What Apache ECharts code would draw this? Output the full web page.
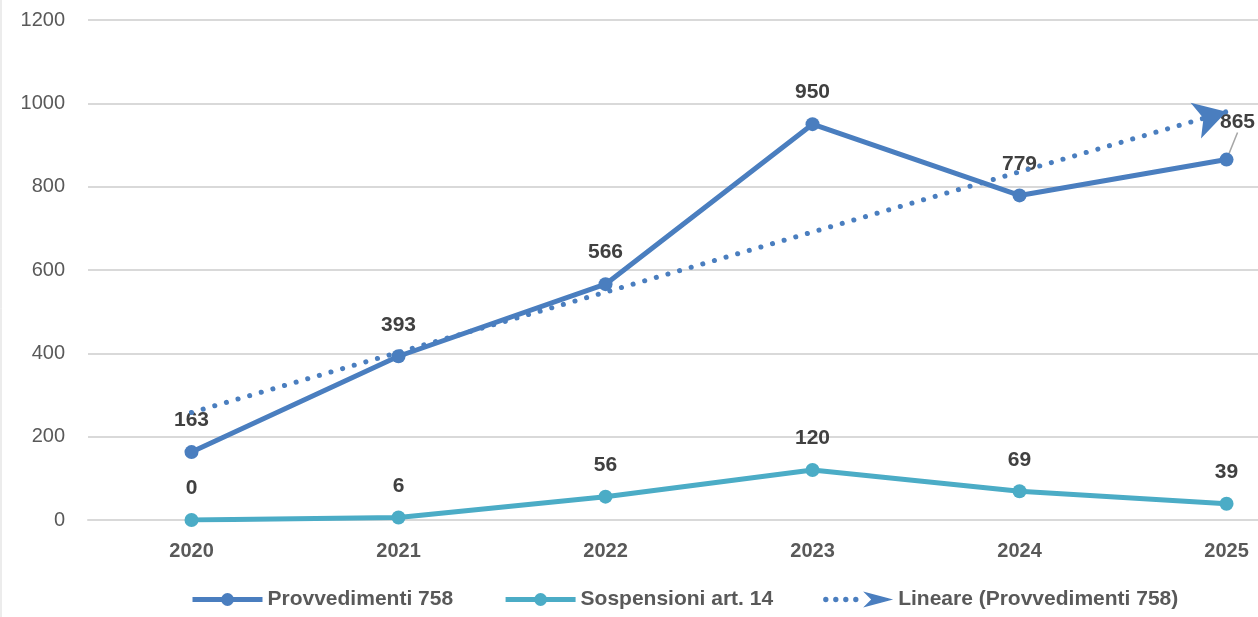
<!DOCTYPE html>
<html>
<head>
<meta charset="utf-8">
<script src="https://cdn.jsdelivr.net/npm/echarts@6/dist/echarts.min.js"></script>
<style>
  html, body { margin: 0; padding: 0; background: #fff; }
  #chart { width: 1258px; height: 617px; }
</style>
</head>
<body>
<div id="chart"></div>
<script>
// dati
const years = ['2020', '2021', '2022', '2023', '2024', '2025']
const provvedimenti = [163, 393, 566, 950, 779, 865]
const sospensioni = [0, 6, 56, 120, 69, 39]
// linea di tendenza: valori agli estremi (2020, 2025)
const trendEnds = [258, 980]
const yTicks = { min: 0, max: 1200, interval: 200 }

const blue = '#4a7ebf'
const teal = '#4bacc6'
const font = 'Liberation Sans'

const chart = echarts.init(document.getElementById('chart'))

// icona legenda: puntini + freccia (proporzioni 105x24 -> 70x16)
const trendIcon = 'path://M0 12a4 4 0 1 0 8 0a4 4 0 1 0 -8 0Z' +
  'M15 12a4 4 0 1 0 8 0a4 4 0 1 0 -8 0Z' +
  'M30 12a4 4 0 1 0 8 0a4 4 0 1 0 -8 0Z' +
  'M45 12a4 4 0 1 0 8 0a4 4 0 1 0 -8 0Z' +
  'M60 0L105 12L60 24L72 12Z'

const dataLabel = { show: true, position: 'top', distance: 14, fontSize: 21, fontWeight: 'bold', color: '#404040' }

chart.setOption({
  animation: false,
  textStyle: { fontFamily: font },
  graphic: [{
    type: 'line',
    shape: { x1: 1, y1: 0, x2: 1, y2: 617 },
    style: { stroke: '#d9d9d9', lineWidth: 1 }
  }],
  grid: { left: 88, top: 20, bottom: 97, right: 0 },
  legend: {
    bottom: 2,
    left: 185,
    itemWidth: 70,
    itemHeight: 16,
    itemGap: 50,
    lineStyle: { width: 5 },
    textStyle: { fontSize: 21, fontWeight: 'bold', color: '#595959', fontFamily: font },
    data: [
      { name: 'Provvedimenti 758' },
      { name: 'Sospensioni art. 14' },
      { name: 'Lineare (Provvedimenti 758)', icon: trendIcon, itemStyle: { color: blue } }
    ]
  },
  xAxis: {
    type: 'value',
    min: -0.5,
    max: 5.152,
    interval: 0.5,
    splitLine: { show: false },
    axisLine: { show: true, onZero: false, lineStyle: { color: '#d9d9d9', width: 2 } },
    axisTick: { show: false },
    axisLabel: {
      margin: 21, fontSize: 20, fontWeight: 'bold', color: '#595959',
      showMinLabel: true, showMaxLabel: false,
      formatter: v => Number.isInteger(v) && years[v] ? years[v] : ''
    }
  },
  yAxis: {
    type: 'value',
    min: yTicks.min,
    max: yTicks.max,
    interval: yTicks.interval,
    axisLine: { show: false },
    axisTick: { show: false },
    splitLine: { lineStyle: { color: '#d9d9d9', width: 2 } },
    axisLabel: { margin: 23, fontSize: 20, color: '#595959', formatter: v => String(v) }
  },
  series: [{
    name: 'Provvedimenti 758',
    type: 'line',
    data: provvedimenti.map((v, i) => i === 5
      ? { value: [i, v], labelLine: { show: true } }
      : [i, v]),
    symbol: 'circle',
    symbolSize: 14,
    itemStyle: { color: blue },
    lineStyle: { color: blue, width: 5 },
    label: dataLabel,
    labelLine: { show: false, lineStyle: { color: '#a6a6a6', width: 1.5 } },
    labelLayout: p => p.dataIndex === 5 ? { dx: 11, dy: -6 } : {},
    z: 3
  }, {
    name: 'Sospensioni art. 14',
    type: 'line',
    data: sospensioni.map((v, i) => [i, v]),
    symbol: 'circle',
    symbolSize: 14,
    itemStyle: { color: teal },
    lineStyle: { color: teal, width: 5 },
    label: dataLabel,
    z: 3
  }, {
    name: 'Lineare (Provvedimenti 758)',
    type: 'line',
    data: [],
    itemStyle: { color: blue },
    lineStyle: { color: blue, width: 5, type: [0.1, 12], cap: 'round' },
    markLine: {
      silent: true,
      symbol: ['none', 'arrow'],
      symbolSize: [28, 32],
      label: { show: false },
      lineStyle: { color: blue, width: 5, type: [0.1, 12], cap: 'round' },
      data: [[
        { coord: [0, trendEnds[0]] },
        { coord: [years.length - 1, trendEnds[1]] }
      ]]
    },
    z: 2
  }]
})
</script>
</body>
</html>
